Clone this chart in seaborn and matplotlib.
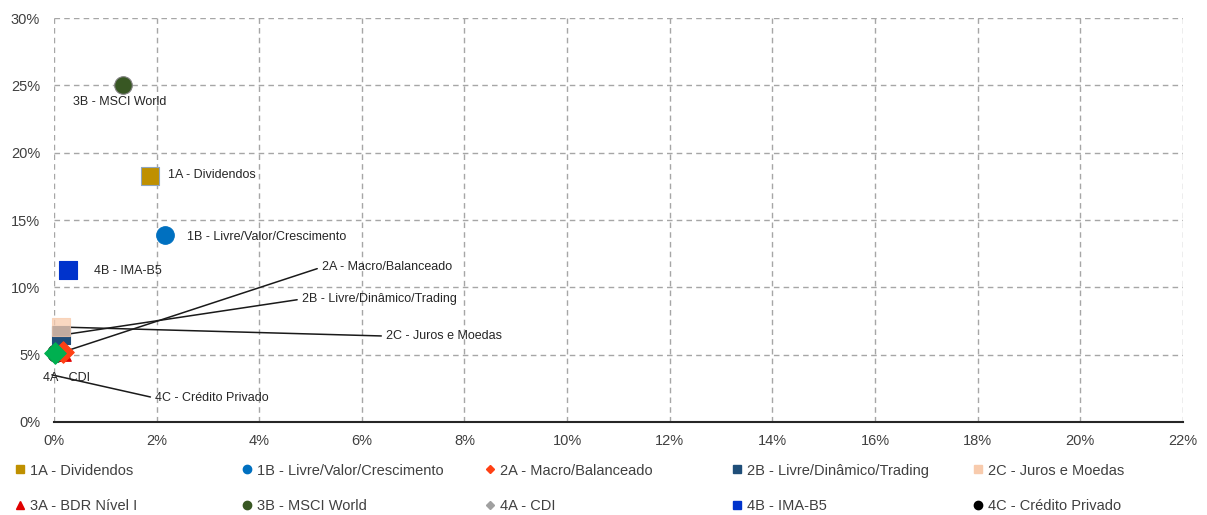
import matplotlib
matplotlib.use("Agg")
import matplotlib.pyplot as plt
from matplotlib.lines import Line2D
from matplotlib.ticker import PercentFormatter
import seaborn as sns
import numpy as np

# Data (volatility %, return %)
names = ["1A - Dividendos", "1B - Livre/Valor/Crescimento", "2A - Macro/Balanceado",
         "2B - Livre/Dinâmico/Trading", "2C - Juros e Moedas", "3A - BDR Nível I",
         "3B - MSCI World", "4A - CDI", "4B - IMA-B5", "4C - Crédito Privado"]
x_vals = [1.87, 2.16, 0.18, 0.14, 0.14, 0.16, 1.34, 0.02, 0.27, 0.04]
y_vals = [18.26, 13.9, 5.2, 6.45, 7.05, 5.2, 25.0, 5.1, 11.3, 5.1]
colors = ["#BF9000", "#0070C0", "#FF4014", "#1F4E79", "#F8CBAD",
          "#E00000", "#385723", "#00B050", "#0033CC", "#000000"]
legend_colors = ["#BF9000", "#0070C0", "#FF4014", "#1F4E79", "#F8CBAD",
                 "#E00000", "#385723", "#A0A0A0", "#0033CC", "#000000"]
markers = ["s", "o", "D", "s", "s", "^", "o", "D", "s", "o"]

# label placement (text anchor) and whether a leader line is drawn
label_x = [2.22, 2.59, 5.22, 4.83, 6.47, None, 1.29, -0.21, 0.78, 1.97]
label_y = [18.34, 13.73, 11.5, 9.13, 6.38, None, 23.76, 3.27, 11.2, 1.78]
leader = [False, False, True, True, True, False, False, False, False, True]

sns.set_style("white")
plt.rcParams["font.family"] = ["Liberation Sans", "DejaVu Sans"]

fig = plt.figure(figsize=(12.07, 5.15), dpi=100)
ax = fig.add_axes([0.0447, 0.1806, 0.9353, 0.7844])

# drawing order so the overlapping squares/diamonds look right
order = [9, 5, 0, 1, 6, 8, 3, 4, 2, 7]
for i in order:
    sns.scatterplot(x=[x_vals[i]], y=[y_vals[i]], ax=ax, marker=markers[i],
                    color=colors[i], s=160 if markers[i] != "D" else 120,
                    edgecolor="#8FA5BF" if i == 0 else ("#7F7F7F" if i == 6 else colors[i]),
                    linewidth=0.8, alpha=0.75 if i == 4 else 1, zorder=3 + order.index(i),
                    legend=False, clip_on=False)

for i in range(len(names)):
    if label_x[i] is None:
        continue
    ha = "center" if i == 6 else "left"
    if leader[i]:
        target = (x_vals[i], y_vals[i]) if i != 9 else (-0.04, 3.5)
        ax.annotate(names[i], xy=target, xytext=(label_x[i], label_y[i]),
                    fontsize=9, color="#262626", ha=ha, va="center",
                    arrowprops=dict(arrowstyle="-", color="#1A1A1A", lw=1.1,
                                    relpos=(0, 0.5), shrinkA=1, shrinkB=0),
                    annotation_clip=False, zorder=2)
    else:
        ax.text(label_x[i], label_y[i], names[i], fontsize=9, color="#262626",
                ha=ha, va="center", clip_on=False)

ax.set_xlim(0, 22)
ax.set_ylim(0, 30)
ax.set_xticks(np.arange(0, 23, 2))
ax.set_yticks(np.arange(0, 31, 5))
ax.xaxis.set_major_formatter(PercentFormatter(decimals=0))
ax.yaxis.set_major_formatter(PercentFormatter(decimals=0))
ax.tick_params(axis="both", length=0, labelsize=10.5, labelcolor="#404040")
ax.tick_params(axis="x", pad=9)
ax.tick_params(axis="y", pad=10)
ax.grid(True, color="#A6A6A6", linestyle=(0, (4, 3)), linewidth=1)
ax.set_axisbelow(True)
for s in ["top", "right", "left"]:
    ax.spines[s].set_visible(False)
ax.spines["bottom"].set_color("#262626")
ax.spines["bottom"].set_linewidth(1.5)
ax.set_xlabel("")
ax.set_ylabel("")

# legend: 5 fixed-width columns, 2 rows (row-major like the original)
col_x = [14, 241, 484, 731, 972]
for c in range(5):
    idx = [c, c + 5]
    handles = [Line2D([], [], linestyle="", marker=markers[i], color=legend_colors[i],
                      markersize=6 if markers[i] != "D" else 4.5) for i in idx]
    leg = fig.legend(handles, [names[i] for i in idx], loc="center left",
                     bbox_to_anchor=(col_x[c] / 1207, 0.0515), frameon=False,
                     fontsize=10.5, labelcolor="#404040", handletextpad=0.3,
                     handlelength=0.8, labelspacing=1.5, borderaxespad=0, borderpad=0)

fig.savefig("out.png", dpi=100)
